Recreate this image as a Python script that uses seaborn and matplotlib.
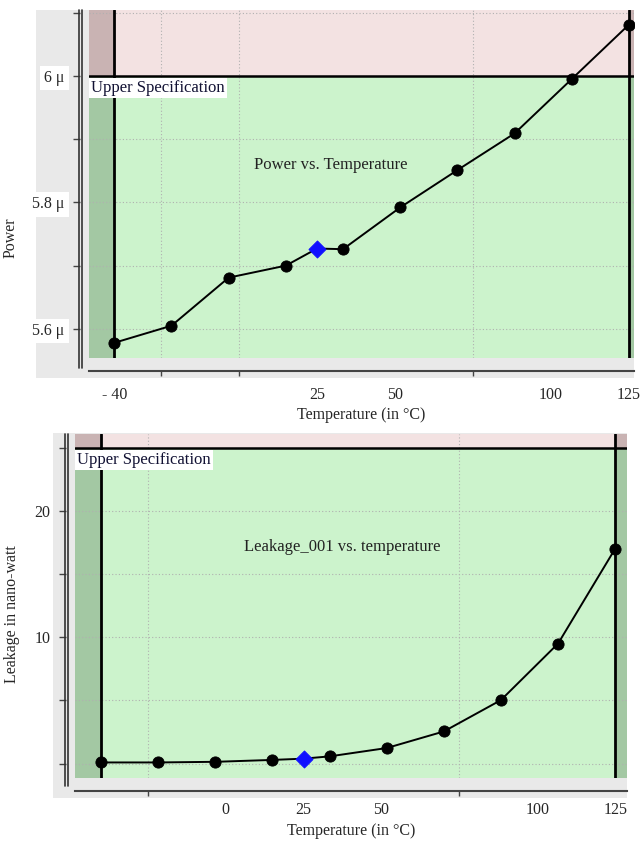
import matplotlib
matplotlib.use("Agg")
import matplotlib.pyplot as plt
from matplotlib.patches import Rectangle
from matplotlib.lines import Line2D
from matplotlib.ticker import FixedLocator, FixedFormatter
import seaborn as sns
import pandas as pd

sns.set_style("white")
plt.rcParams['font.family'] = ['Liberation Serif', 'DejaVu Serif']

# ---------------- data ----------------
temperature = [-40, -21.67, -3.33, 15, 25, 33.33, 51.67, 70, 88.33, 106.67, 125]
power_uW = [5.578, 5.605, 5.681, 5.700, 5.727, 5.726, 5.792, 5.851, 5.909, 5.995, 6.081]
leakage_nW = [0.1, 0.1, 0.15, 0.3, 0.4, 0.58, 1.24, 2.55, 5.03, 9.5, 17.0]
nominal_temp = 25
temp_min, temp_max = -40, 125
power_upper_spec = 6.0
leak_upper_spec = 25

power_yticks_major = [5.6, 5.8, 6.0]
power_yticklabels = ["5.6 \u03bc", "5.8 \u03bc", "6 \u03bc"]
power_yticks_minor = [5.7, 5.9, 6.1]
power_xticks_major = [-40, 25, 50, 100, 125]
power_xticklabels = ["- 40", "25", "50", "100", "125"]
leak_yticks_major = [10, 20]
leak_yticklabels = ["10", "20"]
leak_yticks_minor = [0, 5, 15, 25]
leak_xticks_major = [0, 25, 50, 100, 125]
leak_xticklabels = ["0", "25", "50", "100", "125"]
xticks_minor = [-25, 0, 25, 50, 75, 100, 125]

PINK = "#f3e2e2"
MAUVE = "#c9b3b3"
GREEN = "#ccf3cc"
DKGREEN = "#a3c8a3"
PANEL = "#e9e9e9"

W, H = 640, 843
fig = plt.figure(figsize=(W / 100, H / 100), dpi=100)


def fx(px):
    return px / W


def fy(py):
    return 1 - py / H


def add_panel(x0, y0, x1, y1):
    fig.patches.append(Rectangle((fx(x0), fy(y1)), fx(x1) - fx(x0), fy(y0) - fy(y1),
                                 transform=fig.transFigure, facecolor=PANEL,
                                 edgecolor="none", zorder=-5))


def add_vline(x, y0, y1, lw=1.2, color="#333333"):
    fig.lines.append(Line2D([fx(x), fx(x)], [fy(y0), fy(y1)], transform=fig.transFigure,
                            color=color, lw=lw, zorder=3))


def make_chart(rect_px, xlim, ylim, x, y, upper, title, title_pos,
               ymaj, ylab, ymin_t, xmaj, xlab, ylabel, ylabel_pos, xlabel_y,
               ylabel_bbox, xpad):
    left, top, right, bottom = rect_px
    ax = fig.add_axes([fx(left), fy(bottom), fx(right) - fx(left), fy(top) - fy(bottom)])
    ax.set_facecolor("none")
    ax.set_xlim(*xlim)
    ax.set_ylim(*ylim)
    # background zones
    ax.add_patch(Rectangle((temp_min, ylim[0]), temp_max - temp_min, upper - ylim[0],
                           facecolor=GREEN, edgecolor="none", zorder=0.5))
    ax.add_patch(Rectangle((temp_min, upper), temp_max - temp_min, ylim[1] - upper,
                           facecolor=PINK, edgecolor="none", zorder=0.5))
    for xa, xb in [(xlim[0], temp_min), (temp_max, xlim[1])]:
        ax.add_patch(Rectangle((xa, ylim[0]), xb - xa, upper - ylim[0],
                               facecolor=DKGREEN, edgecolor="none", zorder=0.5))
        ax.add_patch(Rectangle((xa, upper), xb - xa, ylim[1] - upper,
                               facecolor=MAUVE, edgecolor="none", zorder=0.5))
    # spec lines
    ax.axhline(upper, color="black", lw=1.8, zorder=2)
    ax.axvline(temp_min, color="black", lw=2.0, zorder=2)
    ax.axvline(temp_max, color="black", lw=2.0, zorder=2)

    df = pd.DataFrame({"T": x, "V": y})
    sns.lineplot(data=df, x="T", y="V", ax=ax, color="black", lw=1.4, zorder=3,
                 estimator=None, sort=True)
    other = df[df["T"] != nominal_temp]
    nom = df[df["T"] == nominal_temp]
    sns.scatterplot(data=other, x="T", y="V", ax=ax, color="black", s=65,
                    marker="o", edgecolor="black", zorder=4)
    sns.scatterplot(data=nom, x="T", y="V", ax=ax, color="#1010ff", s=75,
                    marker="D", edgecolor="#1010ff", zorder=4)

    ax.text(title_pos[0], title_pos[1], title, transform=ax.transAxes,
            ha="center", va="center", fontsize=12, color="#222222", zorder=5)
    ax.text(0.004, (upper - ylim[0]) / (ylim[1] - ylim[0]) - 0.012, "Upper Specification",
            transform=ax.transAxes, ha="left", va="top", fontsize=12, color="#111133",
            zorder=5, bbox=dict(facecolor="white", edgecolor="none", pad=1.5))

    # ticks
    for s in ["top", "right", "left", "bottom"]:
        ax.spines[s].set_visible(False)
    ax.spines["left"].set_position(("outward", 6.5))
    ax.spines["bottom"].set_position(("outward", 9.1))
    ax.spines["bottom"].set_visible(True)
    ax.spines["bottom"].set_color("#444444")
    ax.spines["bottom"].set_linewidth(1.5)

    ax.yaxis.set_major_locator(FixedLocator(ymaj))
    ax.yaxis.set_major_formatter(FixedFormatter(ylab))
    ax.yaxis.set_minor_locator(FixedLocator(ymin_t))
    ax.xaxis.set_major_locator(FixedLocator(xmaj))
    ax.xaxis.set_major_formatter(FixedFormatter(xlab))
    ax.xaxis.set_minor_locator(FixedLocator(xticks_minor))
    ax.tick_params(axis="y", which="both", left=True, length=5, width=1, color="#444444",
                   labelsize=11.5, pad=6)
    ax.tick_params(axis="x", which="minor", bottom=True, length=3.5, width=1, color="#444444")
    ax.tick_params(axis="x", which="major", bottom=True, length=0, labelsize=11.5, pad=xpad)
    if ylabel_bbox:
        for tl in ax.get_yticklabels():
            tl.set_bbox(dict(facecolor="white", edgecolor="none", pad=3))
    ax.grid(False)
    ax.set_axisbelow("line")
    ax.grid(True, axis="y", which="both", color="#b0b0b0", ls=(0, (1, 2)), lw=0.8)
    ax.grid(True, axis="x", which="minor", color="#b0b0b0", ls=(0, (1, 2)), lw=0.8)

    ax.set_xlabel("Temperature (in \u00b0C)", fontsize=11.5)
    ax.set_ylabel(ylabel, fontsize=11.5)
    ax.xaxis.set_label_coords(0.5, xlabel_y)
    ax.yaxis.set_label_coords(*ylabel_pos)
    return ax


# ---- top chart ----
add_panel(36, 10, 634, 378)
add_vline(79, 10, 368)
add_vline(81.5, 10, 368)
make_chart((89, 10, 634, 358), (-48.1, 126.6), (5.554, 6.104),
           temperature, power_uW, power_upper_spec, "Power vs. Temperature", (0.443, 0.555),
           power_yticks_major, power_yticklabels, power_yticks_minor,
           power_xticks_major, power_xticklabels, "Power", (-0.13, 0.345), -0.142,
           True, 12)

# ---- bottom chart ----
add_panel(53, 433, 627, 798)
add_vline(65, 434, 786)
add_vline(67.5, 434, 786)
make_chart((75, 434, 627, 778), (-48.4, 128.8), (-1.13, 26.07),
           temperature, leakage_nW, leak_upper_spec, "Leakage_001 vs. temperature", (0.485, 0.671),
           leak_yticks_major, leak_yticklabels, leak_yticks_minor,
           leak_xticks_major, leak_xticklabels, "Leakage in nano-watt", (-0.10, 0.477), -0.13,
           False, 8)

fig.savefig("out.png", dpi=100)
